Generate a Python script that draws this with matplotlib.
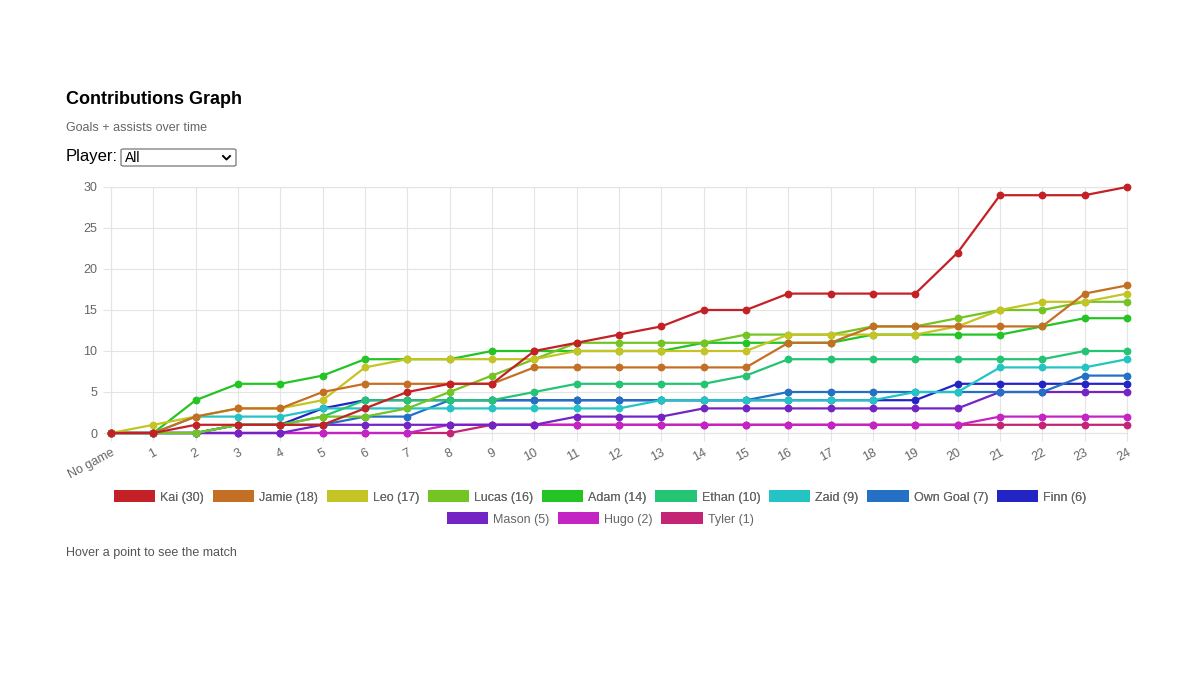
import matplotlib
matplotlib.use("Agg")
import matplotlib.pyplot as plt
from matplotlib.patches import Patch, FancyBboxPatch
from matplotlib.lines import Line2D

plt.rcParams["font.family"] = ["Liberation Sans", "DejaVu Sans"]

# data
games = ["No game"] + [str(i) for i in range(1, 25)]

players = ["Kai", "Jamie", "Leo", "Lucas", "Adam", "Ethan",
           "Zaid", "Own Goal", "Finn", "Mason", "Hugo", "Tyler"]

kai = [0, 0, 1, 1, 1, 1, 3, 5, 6, 6, 10, 11, 12, 13, 15, 15, 17, 17, 17, 17, 22, 29, 29, 29, 30]
jamie = [0, 0, 2, 3, 3, 5, 6, 6, 6, 6, 8, 8, 8, 8, 8, 8, 11, 11, 13, 13, 13, 13, 13, 17, 18]
leo = [0, 1, 2, 3, 3, 4, 8, 9, 9, 9, 9, 10, 10, 10, 10, 10, 12, 12, 12, 12, 13, 15, 16, 16, 17]
lucas = [0, 0, 0, 1, 1, 2, 2, 3, 5, 7, 9, 11, 11, 11, 11, 12, 12, 12, 13, 13, 14, 15, 15, 16, 16]
adam = [0, 0, 4, 6, 6, 7, 9, 9, 9, 10, 10, 10, 10, 10, 11, 11, 11, 11, 12, 12, 12, 12, 13, 14, 14]
ethan = [0, 0, 0, 1, 1, 2, 4, 4, 4, 4, 5, 6, 6, 6, 6, 7, 9, 9, 9, 9, 9, 9, 9, 10, 10]
zaid = [0, 0, 2, 2, 2, 3, 3, 3, 3, 3, 3, 3, 3, 4, 4, 4, 4, 4, 4, 5, 5, 8, 8, 8, 9]
own_goal = [0, 0, 0, 1, 1, 1, 2, 2, 4, 4, 4, 4, 4, 4, 4, 4, 5, 5, 5, 5, 5, 5, 5, 7, 7]
finn = [0, 0, 0, 1, 1, 3, 4, 4, 4, 4, 4, 4, 4, 4, 4, 4, 4, 4, 4, 4, 6, 6, 6, 6, 6]
mason = [0, 0, 0, 0, 0, 1, 1, 1, 1, 1, 1, 2, 2, 2, 3, 3, 3, 3, 3, 3, 3, 5, 5, 5, 5]
hugo = [0, 0, 0, 0, 0, 0, 0, 0, 1, 1, 1, 1, 1, 1, 1, 1, 1, 1, 1, 1, 1, 2, 2, 2, 2]
tyler = [0, 0, 0, 0, 0, 0, 0, 0, 0, 1, 1, 1, 1, 1, 1, 1, 1, 1, 1, 1, 1, 1, 1, 1, 1]

series = [kai, jamie, leo, lucas, adam, ethan, zaid, own_goal, finn, mason, hugo, tyler]
colors = ["#c42126", "#c47024", "#c4c424", "#74c424", "#24c424", "#24c474",
          "#24c4c4", "#2470c4", "#2424c4", "#7424c4", "#c424c4", "#c42474"]

yticks = [0, 5, 10, 15, 20, 25, 30]

fig = plt.figure(figsize=(12, 6.75), dpi=100)
ax = fig.add_axes([111 / 1200, 1 - 433 / 675, (1127 - 111) / 1200, (433 - 187) / 675])

x = list(range(len(games)))
n = len(series)
for i, (vals, col) in enumerate(zip(series, colors)):
    ax.plot(x, vals, color=col, lw=1.6, marker="o", ms=4.6,
            zorder=10 + n - i, clip_on=False)

ax.set_xlim(0, len(games) - 1)
ax.set_ylim(0, 30)
ax.set_xticks(x)
ax.set_xticklabels(games, rotation=28, ha="right", rotation_mode="anchor")
ax.set_yticks(yticks)
grid_col = "#e4e4e4"
ax.grid(True, color=grid_col, lw=0.8)
ax.set_axisbelow(True)
for s in ax.spines.values():
    s.set_color(grid_col)
    s.set_linewidth(0.8)
ax.tick_params(axis="both", colors=grid_col, labelcolor="#666666", labelsize=9, length=6, width=0.8)
ax.tick_params(axis="y", pad=4)
ax.tick_params(axis="x", pad=4)

# header
fig.text(66 / 1200, 1 - 100 / 675, "Contributions Graph", fontsize=13, fontweight="bold",
         color="#000000", va="center", ha="left")
fig.text(66 / 1200, 1 - 128 / 675, "Goals + assists over time", fontsize=9,
         color="#666666", va="center", ha="left")
fig.text(66 / 1200, 1 - 157 / 675, "Player:", fontsize=12, color="#000000",
         va="center", ha="left")
box = FancyBboxPatch((121 / 1200, 1 - 166 / 675), 115 / 1200, 17 / 675,
                     boxstyle="round,pad=0,rounding_size=0.002", transform=fig.transFigure,
                     facecolor="white", edgecolor="#767676", lw=0.9)
fig.patches.append(box)
fig.text(125 / 1200, 1 - 157.5 / 675, "All", fontsize=10, color="#000000",
         va="center", ha="left")
chev = Line2D([223 / 1200, 226.5 / 1200, 230 / 1200],
              [1 - 156 / 675, 1 - 159.5 / 675, 1 - 156 / 675],
              transform=fig.transFigure, color="#000000", lw=1.4)
fig.lines.append(chev)

# legend, two centred rows like the reference
labels = [f"{p} ({v[-1]})" for p, v in zip(players, series)]
handles = [Patch(facecolor=c, edgecolor="none") for c in colors]
leg_kw = dict(frameon=False, fontsize=9, labelcolor="#666666", handlelength=3.3,
              handleheight=1.1, handletextpad=0.4, columnspacing=0.7, loc="center")
leg1 = fig.legend(handles[:9], labels[:9], ncol=9, bbox_to_anchor=(0.5, 1 - 497 / 675), **leg_kw)
fig.add_artist(leg1)
fig.legend(handles[9:], labels[9:], ncol=3, bbox_to_anchor=(0.5, 1 - 519 / 675), **leg_kw)

fig.text(66 / 1200, 1 - 553 / 675, "Hover a point to see the match", fontsize=9,
         color="#555555", va="center", ha="left")

fig.savefig("out.png", dpi=100, facecolor="white")
